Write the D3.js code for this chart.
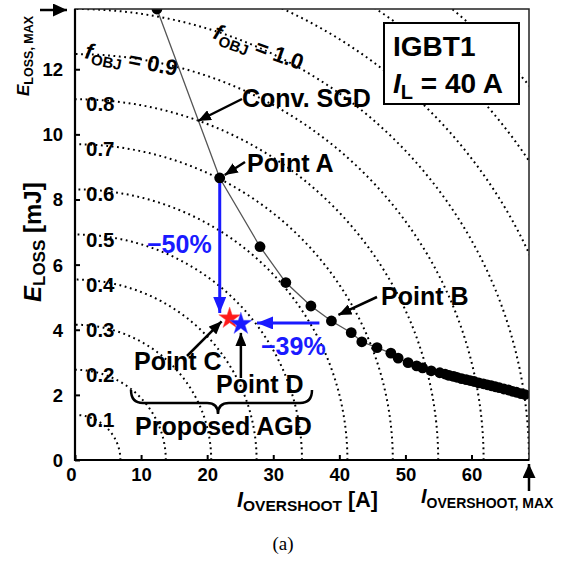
<!DOCTYPE html>
<html><head><meta charset="utf-8">
<script src="https://cdn.jsdelivr.net/npm/d3@7"></script>
<style>
html,body{margin:0;padding:0;background:#fff;}
svg{display:block;font-family:"Liberation Sans",Arial,sans-serif;}
</style></head>
<body>
<svg id="c" width="565" height="562"></svg>
<script>
// ---- data ----
const xMax = 68.7;          // I_OVERSHOOT,MAX [A]
const yMax = 13.85;         // E_LOSS,MAX [mJ]
const xTicks = [0, 10, 20, 30, 40, 50, 60];
const yTicks = [0, 2, 4, 6, 8, 10, 12];
const fLevels = [0.1, 0.2, 0.3, 0.4, 0.5, 0.6, 0.7, 0.8, 0.9, 1.0, 1.1, 1.2, 1.3];
const fLabels = ["0.1", "0.2", "0.3", "0.4", "0.5", "0.6", "0.7", "0.8"];
const sgdX = [12.4, 21.9, 28.0, 31.9, 35.7, 38.8, 41.8, 43.4, 45.7, 47.8, 48.9, 50.4, 51.7, 52.6, 53.9, 55.2, 56.0, 56.6, 57.3, 57.8, 58.5, 59.2, 59.8, 60.4, 61.1, 61.8, 62.4, 63.0, 63.6, 64.2, 64.9, 65.6, 66.2, 66.8, 67.5, 68.1];
const sgdY = [13.85, 8.66, 6.55, 5.45, 4.73, 4.27, 3.91, 3.63, 3.45, 3.28, 3.13, 2.99, 2.89, 2.83, 2.74, 2.68, 2.64, 2.60, 2.57, 2.54, 2.50, 2.47, 2.44, 2.41, 2.37, 2.34, 2.31, 2.28, 2.25, 2.22, 2.18, 2.15, 2.11, 2.08, 2.04, 2.01];
const pointA = [21.9, 8.66];
const pointB = [38.8, 4.27];
const pointC = [23.4, 4.35];   // red star
const pointD = [25.1, 4.18];   // blue star
const labelsPct = ["\u221250%", "\u221239%"];

// ---- chart ----
const svg = d3.select("#c");
const x = d3.scaleLinear().domain([0, xMax]).range([75, 529]);
const y = d3.scaleLinear().domain([0, yMax]).range([460, 9]);
const BLUE = "#1a1aff";

const defs = svg.append("defs");
defs.append("clipPath").attr("id", "plot").append("rect")
  .attr("x", x(0)).attr("y", y(yMax)).attr("width", x(xMax) - x(0)).attr("height", y(0) - y(yMax));
function marker(id, color, w, l) {
  defs.append("marker").attr("id", id).attr("viewBox", `0 ${-w/2} ${l} ${w}`)
    .attr("refX", l).attr("refY", 0).attr("markerWidth", l).attr("markerHeight", w)
    .attr("markerUnits", "userSpaceOnUse").attr("orient", "auto")
    .append("path").attr("d", `M0,${-w/2}L${l},0L0,${w/2}Z`).attr("fill", color);
}
marker("ak", "#000", 11, 13);
marker("ab", BLUE, 13, 16);
marker("ak2", "#000", 13, 14);

const plot = svg.append("g").attr("clip-path", "url(#plot)");

// iso-objective arcs
const arcLine = d3.line().x(d => x(d[0])).y(d => y(d[1]));
fLevels.forEach(f => {
  const pts = d3.range(0, 201).map(i => {
    const t = (i / 200) * Math.PI / 2;
    return [f * xMax * Math.cos(t), f * yMax * Math.sin(t)];
  });
  plot.append("path").attr("d", arcLine(pts)).attr("fill", "none")
    .attr("stroke", "#000").attr("stroke-width", 2).attr("stroke-dasharray", "1.8,3.6");
});

// Conv. SGD curve
const sgd = sgdX.map((v, i) => [v, sgdY[i]]);
plot.append("path").attr("d", arcLine(sgd)).attr("fill", "none")
  .attr("stroke", "#555").attr("stroke-width", 1.3);
plot.selectAll("circle.p").data(sgd).join("circle")
  .attr("cx", d => x(d[0])).attr("cy", d => y(d[1])).attr("r", 5.4).attr("fill", "#000");

// frame and axes
svg.append("rect").attr("x", x(0)).attr("y", y(yMax)).attr("width", x(xMax) - x(0))
  .attr("height", y(0) - y(yMax)).attr("fill", "none").attr("stroke", "#222").attr("stroke-width", 1.5);
svg.append("line").attr("x1", x(0)).attr("x2", x(0)).attr("y1", y(0)+1).attr("y2", y(yMax)).attr("stroke", "#000").attr("stroke-width", 2.2);
svg.append("line").attr("x1", x(0)-1).attr("x2", x(xMax)).attr("y1", y(0)).attr("y2", y(0)).attr("stroke", "#000").attr("stroke-width", 2.2);

const xAxis = svg.append("g").attr("transform", `translate(0,${y(0)})`)
  .call(d3.axisBottom(x).tickValues(xTicks).tickSize(-5).tickFormat(d3.format("d")));
xAxis.select(".domain").remove();
xAxis.selectAll("line").attr("stroke", "#000").attr("stroke-width", 2);
xAxis.selectAll("text").attr("font-size", 18.5).attr("font-weight", "bold").attr("fill", "#000")
  .attr("dy", null).attr("y", 21).attr("font-family", "Liberation Sans, Arial, sans-serif");
xAxis.selectAll("text").filter(d => d === 0).attr("dx", -4);

const yAxis = svg.append("g").attr("transform", `translate(${x(0)},0)`)
  .call(d3.axisLeft(y).tickValues(yTicks).tickSize(-5).tickFormat(d3.format("d")));
yAxis.select(".domain").remove();
yAxis.selectAll("line").attr("stroke", "#000").attr("stroke-width", 2);
yAxis.selectAll("text").attr("font-size", 18.5).attr("font-weight", "bold").attr("fill", "#000")
  .attr("x", -12).attr("dy", "0.35em").attr("font-family", "Liberation Sans, Arial, sans-serif");

// arc labels
const T = (sel) => sel.attr("font-weight", "bold").attr("fill", "#000");
fLabels.forEach((s, i) => {
  const f = fLevels[i];
  svg.append("text").call(T).attr("x", 86).attr("y", y(f * yMax) + 12).attr("font-size", 20.5).text(s);
});
function fLabel(px, py, rot, val) {
  const t = svg.append("text").call(T).attr("transform", `translate(${px},${py}) rotate(${rot})`).attr("font-size", 22);
  t.append("tspan").attr("font-style", "italic").text("f");
  t.append("tspan").attr("font-size", 15).attr("dy", 5).text("OBJ");
  t.append("tspan").attr("dy", -5).text(" = " + val);
}
fLabel(84, 58, 11, "0.9");
fLabel(212, 38, 20, "1.0");

// legend box
svg.append("rect").attr("x", 384).attr("y", 23).attr("width", 135).attr("height", 81)
  .attr("fill", "#fff").attr("stroke", "#000").attr("stroke-width", 2);
svg.append("text").call(T).attr("x", 393).attr("y", 56).attr("font-size", 28).text("IGBT1");
{
  const t = svg.append("text").call(T).attr("x", 393).attr("y", 93).attr("font-size", 28);
  t.append("tspan").attr("font-style", "italic").text("I");
  t.append("tspan").attr("font-size", 20).attr("dy", 6).text("L");
  t.append("tspan").attr("dy", -6).text(" = 40 A");
}

// axis titles
{
  const t = svg.append("text").call(T).attr("x", 237).attr("y", 507).attr("font-size", 21.5);
  t.append("tspan").attr("font-style", "italic").text("I");
  t.append("tspan").attr("font-size", 15.5).attr("dy", 4).text("OVERSHOOT");
  t.append("tspan").attr("dy", -4).text(" [A]");
}
{
  const t = svg.append("text").call(T).attr("x", 421).attr("y", 503).attr("font-size", 20);
  t.append("tspan").attr("font-style", "italic").text("I");
  t.append("tspan").attr("font-size", 14).attr("dy", 5).text("OVERSHOOT, MAX");
}
{
  const t = svg.append("text").call(T).attr("transform", "translate(41,302) rotate(-90)").attr("font-size", 24);
  t.append("tspan").attr("font-style", "italic").text("E");
  t.append("tspan").attr("font-size", 17).attr("dy", 4).text("LOSS");
  t.append("tspan").attr("dy", -4).text(" [mJ]");
}
{
  const t = svg.append("text").call(T).attr("transform", "translate(29,96) rotate(-90)").attr("font-size", 17);
  t.append("tspan").attr("font-style", "italic").text("E");
  t.append("tspan").attr("font-size", 12.5).attr("dy", 4).text("LOSS, MAX");
}
// MAX arrows
svg.append("line").attr("x1", 40).attr("y1", y(yMax)+1).attr("x2", 67).attr("y2", y(yMax)+1)
  .attr("stroke", "#000").attr("stroke-width", 2.5).attr("marker-end", "url(#ak2)");
svg.append("line").attr("x1", x(xMax)).attr("y1", 491).attr("x2", x(xMax)).attr("y2", 464)
  .attr("stroke", "#000").attr("stroke-width", 2.5).attr("marker-end", "url(#ak2)");

// blue arrows and percentages
svg.append("line").attr("x1", x(pointA[0])).attr("y1", y(pointA[1]) + 5).attr("x2", x(pointA[0])).attr("y2", 313)
  .attr("stroke", BLUE).attr("stroke-width", 3).attr("marker-end", "url(#ab)");
svg.append("line").attr("x1", x(pointB[0]) - 12).attr("y1", y(pointB[1]) + 2).attr("x2", 257).attr("y2", y(pointB[1]) + 2)
  .attr("stroke", BLUE).attr("stroke-width", 3).attr("marker-end", "url(#ab)");
svg.append("text").call(T).attr("fill", BLUE).attr("x", 147).attr("y", 253).attr("font-size", 25).text(labelsPct[0]);
svg.append("text").call(T).attr("fill", BLUE).attr("x", 261).attr("y", 355).attr("font-size", 25).text(labelsPct[1]);

// stars
svg.append("path").attr("d", d3.symbol(d3.symbolStar, 145)())
  .attr("transform", `translate(${x(pointC[0])},${y(pointC[1])})`).attr("fill", "#ff1a1a").attr("stroke", "#ff6060").attr("stroke-width", 0.5);
svg.append("path").attr("d", d3.symbol(d3.symbolStar, 155)())
  .attr("transform", `translate(${x(pointD[0])},${y(pointD[1])})`).attr("fill", BLUE).attr("stroke", "#6060ff").attr("stroke-width", 0.5);

// black annotation arrows
function arrow(x1, y1, x2, y2) {
  svg.append("line").attr("x1", x1).attr("y1", y1).attr("x2", x2).attr("y2", y2)
    .attr("stroke", "#000").attr("stroke-width", 2.5).attr("marker-end", "url(#ak)");
}
arrow(242, 99, 198, 121);
arrow(245, 162, x(pointA[0]) + 5, y(pointA[1]) - 3);
arrow(377, 297, x(pointB[0]) + 7, y(pointB[1]) - 6);
arrow(187, 356, x(pointC[0]) - 8, y(pointC[1]) + 3);
arrow(x(pointD[0]), 378, x(pointD[0]), y(pointD[1]) + 9);

// annotation texts
svg.append("text").call(T).attr("x", 242).attr("y", 107).attr("font-size", 25).text("Conv. SGD");
svg.append("text").call(T).attr("x", 247).attr("y", 172).attr("font-size", 25).text("Point A");
svg.append("text").call(T).attr("x", 381).attr("y", 305).attr("font-size", 25).text("Point B");
svg.append("text").call(T).attr("x", 134).attr("y", 370).attr("font-size", 25).text("Point C");
svg.append("text").call(T).attr("x", 216).attr("y", 393).attr("font-size", 25).text("Point D");
svg.append("text").call(T).attr("x", 135).attr("y", 435).attr("font-size", 25).text("Proposed AGD");

// brace
svg.append("path").attr("d",
  "M131,390 Q131,403 143,403 L207,403 Q218,403 218,414 Q218,403 229,403 L300,403 Q312,403 312,390")
  .attr("fill", "none").attr("stroke", "#000").attr("stroke-width", 2.5);

// caption
svg.append("text").attr("x", 283).attr("y", 550).attr("text-anchor", "middle")
  .attr("font-family", "Liberation Serif, Times New Roman, serif").attr("font-size", 19).attr("fill", "#000").text("(a)");
</script>
</body></html>
